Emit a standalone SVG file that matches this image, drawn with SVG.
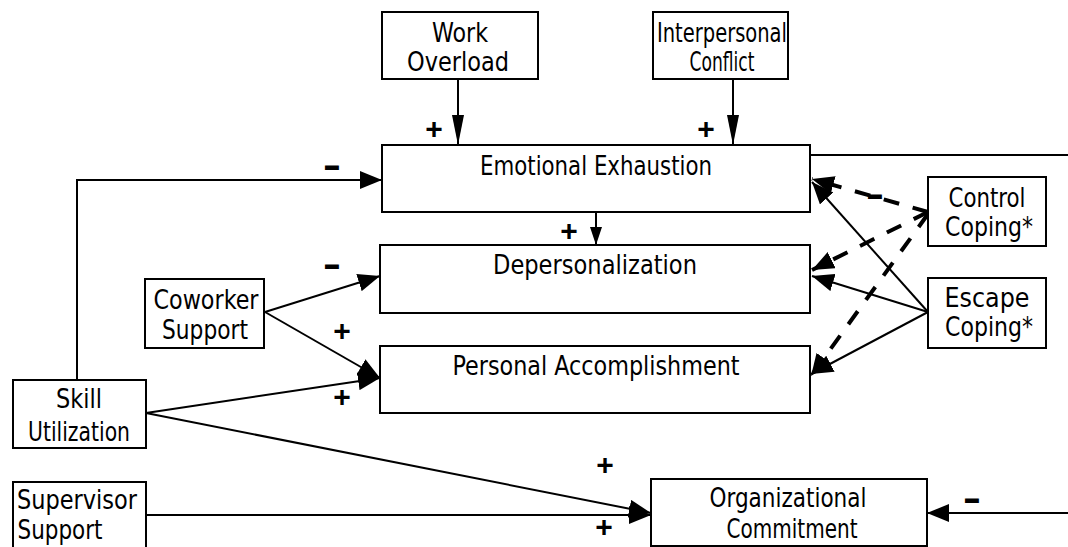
<svg xmlns="http://www.w3.org/2000/svg" width="1068" height="547" viewBox="0 0 1068 547">
<style>
.box{fill:#fff;stroke:#000;stroke-width:2}
.t{font-family:"Liberation Sans Narrow","DejaVu Sans Condensed","Liberation Sans",sans-serif;font-size:26px;fill:#000;text-anchor:middle}
.ln{fill:none;stroke:#000;stroke-width:2}
.dl{fill:none;stroke:#000;stroke-width:4;stroke-dasharray:16 14}
.sg{font-family:"Liberation Sans",Arial,sans-serif;font-weight:bold;fill:#000;text-anchor:middle}
.pl{font-size:30px}
.mi{font-size:24px;stroke:#000;stroke-width:2}
</style>
<defs>
<marker id="arr" markerUnits="userSpaceOnUse" markerWidth="24" markerHeight="18" refX="22" refY="9" orient="auto">
<path d="M0,0 L22,9 L0,18 z" fill="#000"/>
</marker>
<marker id="arrN" markerUnits="userSpaceOnUse" markerWidth="32" markerHeight="12" refX="30" refY="6" orient="auto">
<path d="M0,0 L30,6 L0,12 z" fill="#000"/>
</marker>
<marker id="arrS" markerUnits="userSpaceOnUse" markerWidth="20" markerHeight="12" refX="18" refY="6" orient="auto">
<path d="M0,0 L18,6 L0,12 z" fill="#000"/>
</marker>
</defs>
<rect width="1068" height="547" fill="#fff"/>

<g id="connectors">
<line class="ln" x1="458" y1="79" x2="458" y2="145" marker-end="url(#arrN)"/>
<line class="ln" x1="733" y1="79" x2="733" y2="145" marker-end="url(#arrN)"/>
<polyline class="ln" points="77,380 77,180 382,180" marker-end="url(#arr)"/>
<line class="ln" x1="596" y1="212" x2="596" y2="245" marker-end="url(#arrS)"/>
<line class="ln" x1="265" y1="312" x2="380" y2="276" marker-end="url(#arr)"/>
<line class="ln" x1="265" y1="312" x2="380" y2="378" marker-end="url(#arr)"/>
<line class="ln" x1="146" y1="413" x2="380" y2="378" marker-end="url(#arr)"/>
<line class="ln" x1="146" y1="413" x2="651" y2="513" marker-end="url(#arr)"/>
<line class="ln" x1="146" y1="515" x2="651" y2="515" marker-end="url(#arr)"/>
<line class="ln" x1="810" y1="155" x2="1068" y2="155"/>
<line class="ln" x1="1068" y1="513" x2="927" y2="513" marker-end="url(#arr)"/>
<line class="ln" x1="928" y1="312" x2="812" y2="182" marker-end="url(#arr)"/>
<line class="ln" x1="928" y1="312" x2="812" y2="276" marker-end="url(#arr)"/>
<line class="ln" x1="928" y1="312" x2="811" y2="374" marker-end="url(#arr)"/>
<line class="dl" x1="928" y1="212" x2="812" y2="179" marker-end="url(#arr)"/>
<line class="dl" x1="928" y1="212" x2="812" y2="270" marker-end="url(#arr)"/>
<line class="dl" x1="928" y1="214" x2="811" y2="376" marker-end="url(#arr)"/>
</g>

<g id="labels">
<text class="sg pl" x="434" y="139">+</text>
<text class="sg pl" x="706" y="139">+</text>
<text class="sg pl" x="569" y="241">+</text>
<text class="sg pl" x="342" y="341">+</text>
<text class="sg pl" x="342" y="407">+</text>
<text class="sg pl" x="605" y="475">+</text>
<text class="sg pl" x="604" y="537">+</text>
<text class="sg mi" x="332" y="174">–</text>
<text class="sg mi" x="332" y="273">–</text>
<text class="sg mi" x="972" y="507">–</text>
<text class="sg mi" x="875" y="203">–</text>
</g>

<g id="work-overload">
<rect class="box" x="382" y="12" width="156" height="67"/>
<text class="t" x="460" y="42" textLength="56" lengthAdjust="spacingAndGlyphs">Work</text>
<text class="t" x="458" y="71" textLength="102" lengthAdjust="spacingAndGlyphs">Overload</text>
</g>
<g id="interpersonal-conflict">
<rect class="box" x="653" y="12" width="135" height="67"/>
<text class="t" x="722" y="42" textLength="130" lengthAdjust="spacingAndGlyphs">Interpersonal</text>
<text class="t" x="722" y="71" textLength="65" lengthAdjust="spacingAndGlyphs">Conflict</text>
</g>
<g id="emotional-exhaustion">
<rect class="box" x="382" y="145" width="428" height="67"/>
<text class="t" x="596" y="175" textLength="232" lengthAdjust="spacingAndGlyphs">Emotional Exhaustion</text>
</g>
<g id="depersonalization">
<rect class="box" x="380" y="245" width="430" height="68"/>
<text class="t" x="595" y="274" textLength="204" lengthAdjust="spacingAndGlyphs">Depersonalization</text>
</g>
<g id="personal-accomplishment">
<rect class="box" x="380" y="346" width="430" height="67"/>
<text class="t" x="596" y="375" textLength="287" lengthAdjust="spacingAndGlyphs">Personal Accomplishment</text>
</g>
<g id="control-coping">
<rect class="box" x="928" y="177" width="118" height="69"/>
<text class="t" x="987" y="207" textLength="77" lengthAdjust="spacingAndGlyphs">Control</text>
<text class="t" x="989" y="236" textLength="88" lengthAdjust="spacingAndGlyphs">Coping*</text>
</g>
<g id="escape-coping">
<rect class="box" x="928" y="278" width="118" height="70"/>
<text class="t" x="987" y="307" textLength="85" lengthAdjust="spacingAndGlyphs">Escape</text>
<text class="t" x="989" y="336" textLength="88" lengthAdjust="spacingAndGlyphs">Coping*</text>
</g>
<g id="coworker-support">
<rect class="box" x="145" y="279" width="119" height="69"/>
<text class="t" x="206" y="309" textLength="105" lengthAdjust="spacingAndGlyphs">Coworker</text>
<text class="t" x="205" y="339" textLength="86" lengthAdjust="spacingAndGlyphs">Support</text>
</g>
<g id="skill-utilization">
<rect class="box" x="13" y="380" width="133" height="68"/>
<text class="t" x="79" y="408" textLength="46" lengthAdjust="spacingAndGlyphs">Skill</text>
<text class="t" x="79" y="441" textLength="102" lengthAdjust="spacingAndGlyphs">Utilization</text>
</g>
<g id="supervisor-support">
<rect class="box" x="13" y="482" width="133" height="66"/>
<text class="t" x="77" y="509" textLength="120" lengthAdjust="spacingAndGlyphs">Supervisor</text>
<text class="t" x="60" y="539" textLength="85" lengthAdjust="spacingAndGlyphs">Support</text>
</g>
<g id="organizational-commitment">
<rect class="box" x="651" y="479" width="276" height="67"/>
<text class="t" x="788" y="507" textLength="157" lengthAdjust="spacingAndGlyphs">Organizational</text>
<text class="t" x="792" y="538" textLength="131" lengthAdjust="spacingAndGlyphs">Commitment</text>
</g>
</svg>
